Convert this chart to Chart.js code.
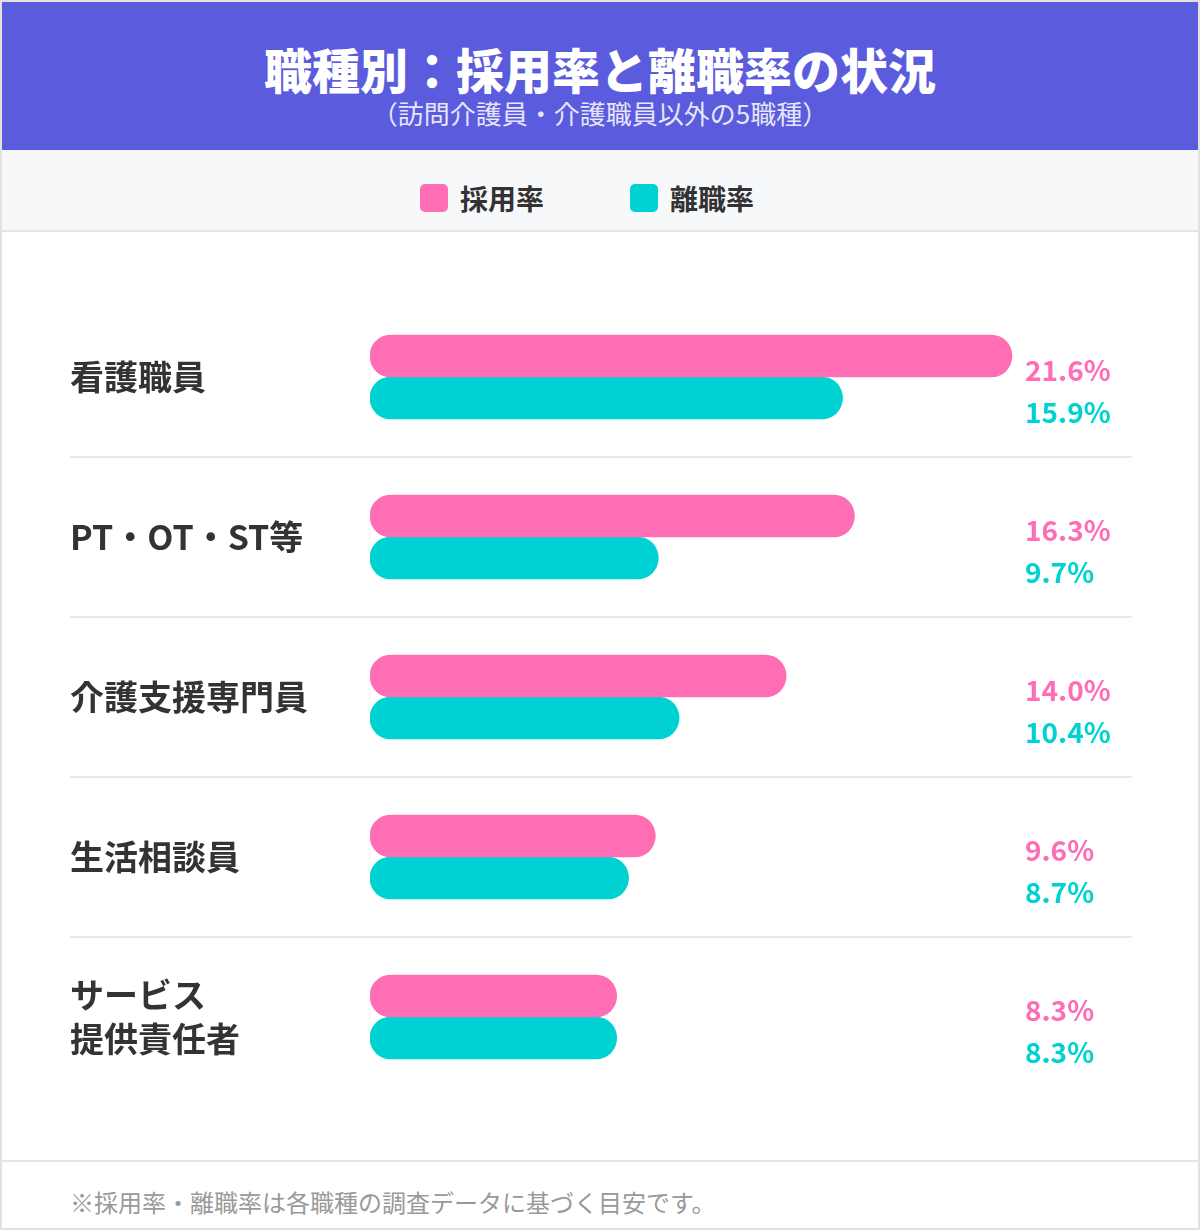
<!DOCTYPE html>
<html><head><meta charset="utf-8">
<script src="https://cdn.jsdelivr.net/npm/chart.js@4"></script>
<style>
body{margin:0;background:#fff;font-family:"Noto Sans CJK JP","Noto Sans",sans-serif;}
#wrap{position:relative;width:1196px;height:1226px;border:2px solid #e2e2e2;overflow:hidden;}
#head{position:absolute;left:0;top:0;width:1196px;height:148px;background:#5b5bdd;color:#fff;text-align:center;}
#head h1{margin:0;padding-top:36px;font-size:48px;font-weight:900;line-height:60px;}
#head p{margin:0;font-size:26px;line-height:30px;color:#e6e6fa;}
#legend{position:absolute;left:0;top:148px;width:1196px;height:80px;background:#f7f8fa;border-bottom:2px solid #e4e4e4;}
.lg{position:absolute;top:28px;font-size:28px;font-weight:700;color:#333;line-height:40px;}
.sw{display:inline-block;width:28px;height:28px;border-radius:5px;vertical-align:-2px;margin-right:12px;}
#cv{position:absolute;left:0;top:228px;}
#foot{position:absolute;left:0;top:1158px;width:1196px;border-top:2px solid #e4e4e4;height:68px;}
#foot p{margin:0;padding:22px 0 0 68px;font-size:24px;color:#999;}
</style></head><body>
<div id="wrap">
<div id="head"><h1>職種別：採用率と離職率の状況</h1><p>（訪問介護員・介護職員以外の5職種）</p></div>
<div id="legend">
<div class="lg" style="left:418px"><span class="sw" style="background:#ff6eb4"></span>採用率</div>
<div class="lg" style="left:628px"><span class="sw" style="background:#00d2d3"></span>離職率</div>
</div>
<canvas id="cv" width="1196" height="930"></canvas>
<div id="foot"><p>※採用率・離職率は各職種の調査データに基づく目安です。</p></div>
</div>
<script>
const categories = [["看護職員"], ["PT・OT・ST等"], ["介護支援専門員"], ["生活相談員"], ["サービス", "提供責任者"]];
const hireRate = [21.6, 16.3, 14.0, 9.6, 8.3];
const leaveRate = [15.9, 9.7, 10.4, 8.7, 8.3];
const PINK = "#ff6eb4", CYAN = "#00d2d3";

const decor = {
  id: "decor",
  afterDraw(chart) {
    const ctx = chart.ctx, y = chart.scales.y, x = chart.scales.x;
    ctx.save();
    // separators
    ctx.strokeStyle = "#e0e0e0"; ctx.lineWidth = 1.5;
    for (let i = 0; i < categories.length - 1; i++) {
      const yy = (y.getPixelForValue(i) + y.getPixelForValue(i + 1)) / 2;
      ctx.beginPath(); ctx.moveTo(68, yy); ctx.lineTo(1130, yy); ctx.stroke();
    }
    // category labels
    ctx.fillStyle = "#333"; ctx.font = "bold 34px 'Noto Sans CJK JP'";
    ctx.textAlign = "left"; ctx.textBaseline = "middle";
    categories.forEach((lines, i) => {
      const cy = y.getPixelForValue(i);
      lines.forEach((t, k) => ctx.fillText(t, 68, cy + (k - (lines.length - 1) / 2) * 44));
    });
    // value labels
    ctx.font = "bold 28px 'Noto Sans CJK JP'";
    chart.data.datasets.forEach((ds, di) => {
      chart.getDatasetMeta(di).data.forEach((bar, i) => {
        ctx.fillStyle = ds.backgroundColor;
        ctx.fillText(ds.data[i].toFixed(1) + "%", 1023, bar.y + 14);
      });
    });
    ctx.restore();
  }
};

new Chart(document.getElementById("cv"), {
  type: "bar",
  data: {
    labels: categories,
    datasets: [
      { label: "採用率", data: hireRate, backgroundColor: PINK },
      { label: "離職率", data: leaveRate, backgroundColor: CYAN }
    ]
  },
  options: {
    indexAxis: "y",
    responsive: false,
    animation: false,
    layout: { padding: { left: 368, right: 85, top: 67, bottom: 63 } },
    barThickness: 42,
    categoryPercentage: 0.725,
    borderRadius: 21,
    borderSkipped: false,
    scales: {
      x: { display: false, min: 0, max: 25 },
      y: { display: false }
    },
    plugins: { legend: { display: false }, tooltip: { enabled: false } }
  },
  plugins: [decor]
});
</script>
</body></html>
